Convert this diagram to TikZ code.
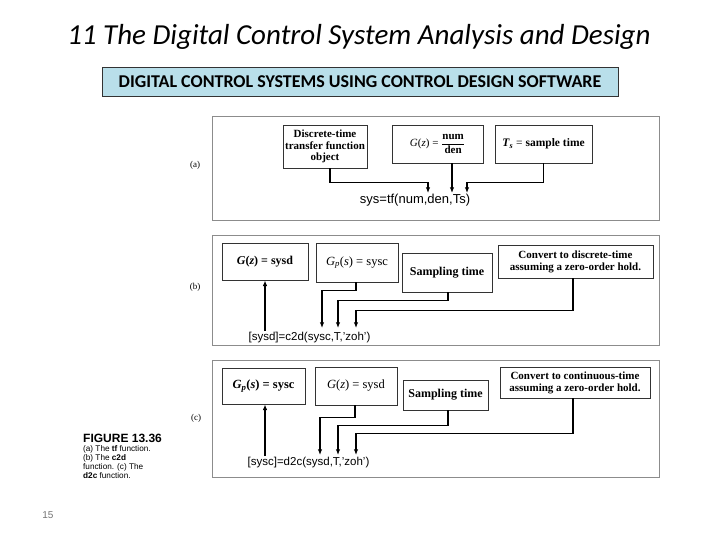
\documentclass[tikz,border=0pt]{standalone}
\usepackage{amsmath,amssymb}
\usepackage{fontspec}
\setmainfont{Liberation Serif}
\setsansfont{Liberation Sans}
\newfontfamily\slidefont{Carlito}
\usepackage{xcolor}
\definecolor{bannerblue}{HTML}{B9DFEA}
\usetikzlibrary{arrows.meta,positioning}

\begin{document}
\begin{tikzpicture}[
  x=1pt,y=-1pt,
  font=\fontsize{11}{12}\selectfont,
  panel/.style={rectangle,draw=black!45,line width=0.9pt},
  blk/.style={rectangle,draw=black!80,line width=0.8pt,align=center,inner sep=1pt},
  code/.style={font=\sffamily\fontsize{11.5}{12}\selectfont,inner sep=0pt},
  tag/.style={font=\fontsize{9}{10}\selectfont},
  arr/.style={-{Latex[length=2mm,width=1.6mm]},line width=1.1pt}
]
\useasboundingbox (0,0) rectangle (720,540);
% slide heading
\node[font=\slidefont\itshape\fontsize{29}{32}\selectfont] (title) at (359,37) {11 The Digital Control System Analysis and Design};
\node[draw=black!80,line width=0.8pt,fill=bannerblue,minimum width=516pt,minimum height=29pt,
      font=\slidefont\bfseries\fontsize{18}{20}\selectfont] (banner) at (360,81.5)
      {DIGITAL CONTROL SYSTEMS USING CONTROL DESIGN SOFTWARE};
% panel frames
\node[panel,minimum width=447pt,minimum height=104pt] (pa) at (435.5,168) {};
\node[panel,minimum width=447pt,minimum height=110pt] (pb) at (435.5,290) {};
\node[panel,minimum width=447pt,minimum height=117pt] (pc) at (435.5,418.5) {};
\node[tag] (la) at (195,165) {(a)};
\node[tag] (lb) at (195,287) {(b)};
\node[tag] (lc) at (196,418) {(c)};
% (a) tf
\node[blk,minimum width=84pt,minimum height=43pt,font=\bfseries\fontsize{11}{11.5}\selectfont] (dt) at (325,146.5) {Discrete-time\\transfer function\\object};
\node[blk,minimum width=91pt,minimum height=38pt] (nd) at (437.5,144) {\textit{G}(\textit{z}) = $\dfrac{\textbf{num}}{\textbf{den}}$};
\node[blk,minimum width=97pt,minimum height=38pt,font=\fontsize{11.5}{12}\selectfont] (ts) at (543.5,144) {\textbf{\textit{T}\textsubscript{\textit{s}}} = \textbf{sample time}};
\node[code,font=\sffamily\fontsize{13}{14}\selectfont] (tf) at (415,200) {sys=tf(num,den,Ts)};
\coordinate (ta1) at (428,193);
\coordinate (ta2) at (452,193);
\coordinate (ta3) at (467,193);
\draw[arr] ([xshift=5pt]dt.south) -- ++(0,14) -| (ta1);
\draw[arr,line width=1.6pt] ([xshift=14.5pt]nd.south) -- (ta2);
\draw[arr] (ts.south) -- ++(0,19) -| (ta3);
% (b) c2d
\node[blk,minimum width=86pt,minimum height=37pt,font=\bfseries\fontsize{12}{13}\selectfont] (bgz) at (265,261.5) {\textit{G}(\textit{z}) = sysd};
\node[blk,minimum width=82pt,minimum height=39pt,font=\fontsize{12.5}{13}\selectfont] (bgp) at (357,262.5) {\textit{G\textsubscript{p}}(\textit{s}) = sysc};
\node[blk,minimum width=90pt,minimum height=39pt,font=\bfseries\fontsize{12}{13}\selectfont] (bst) at (447,272.5) {Sampling time};
\node[blk,minimum width=155pt,minimum height=33pt,font=\bfseries\fontsize{11}{12}\selectfont] (bcv) at (575.5,261.5) {Convert to discrete-time\\assuming a zero-order hold.};
\node[code] (c2d) at (309.5,338) {[sysd]=c2d(sysc,T,'zoh')};
\coordinate (bb0) at (265,331);
\coordinate (bb1) at (322,328);
\coordinate (bb2) at (338,328);
\coordinate (bb3) at (356,328);
\draw[arr] (bb0) -- (bgz.south);
\draw[arr] ([xshift=-1pt]bgp.south) -- ++(0,8) -| (bb1);
\draw[arr] ([xshift=1pt]bst.south) -- ++(0,8) -| (bb2);
\draw[arr] ([xshift=-2.5pt]bcv.south) -- ++(0,32) -| (bb3);
% (c) d2c
\node[blk,minimum width=83pt,minimum height=36pt,font=\bfseries\fontsize{12.5}{13}\selectfont] (cgp) at (263.5,386) {\textit{G\textsubscript{p}}(\textit{s}) = sysc};
\node[blk,minimum width=82pt,minimum height=38pt,font=\fontsize{12.5}{13}\selectfont] (cgz) at (356,386) {\textit{G}(\textit{z}) = sysd};
\node[blk,minimum width=85pt,minimum height=30pt,font=\bfseries\fontsize{12}{13}\selectfont] (cst) at (445.5,395) {Sampling time};
\node[blk,minimum width=150pt,minimum height=31pt,font=\bfseries\fontsize{11}{12}\selectfont] (ccv) at (575,382.5) {Convert to continuous-time\\assuming a zero-order hold.};
\node[code] (d2c) at (308.5,463) {[sysc]=d2c(sysd,T,'zoh')};
\coordinate (cc0) at (265,456);
\coordinate (cc1) at (320,455);
\coordinate (cc2) at (338,455);
\coordinate (cc3) at (356,455);
\draw[arr] (cc0) -- ([xshift=1.5pt]cgp.south);
\draw[arr] ([xshift=-1pt]cgz.south) -- ++(0,12) -| (cc1);
\draw[arr] ([xshift=2.5pt]cst.south) -- ++(0,15) -| (cc2);
\draw[arr] ([xshift=-2pt]ccv.south) -- ++(0,35) -| (cc3);
% caption and page number
\node[font=\sffamily\fontsize{8.2}{9}\selectfont,align=left,anchor=north west,inner sep=0pt] (cap) at (83,434)
  {{\fontsize{12}{12}\selectfont\bfseries FIGURE 13.36}\\(a) The \textbf{tf} function.\\(b) The \textbf{c2d}\\function. (c) The\\\textbf{d2c} function.};
\node[font=\sffamily\fontsize{10}{12}\selectfont,text=black!55] (pgno) at (48,515) {15};
\end{tikzpicture}
\end{document}
